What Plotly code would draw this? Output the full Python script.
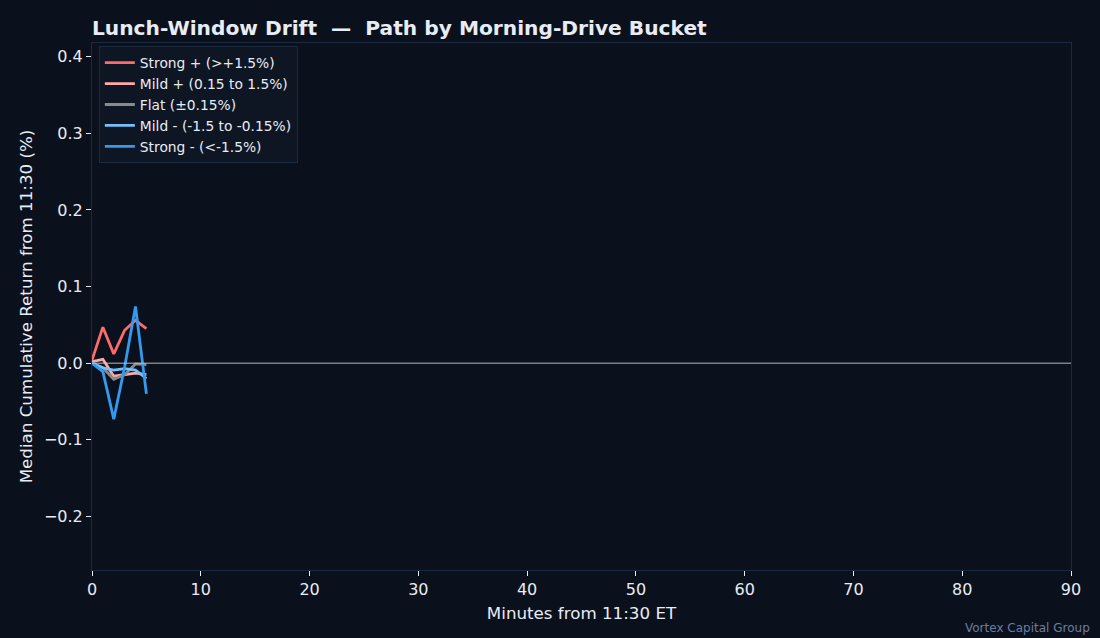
import plotly.graph_objects as go

# ── Dati ────────────────────────────────────────────────────────────────────
minutes = [0, 1, 2, 3, 4, 5]

bucket_names = [
    "Strong + (>+1.5%)",
    "Mild + (0.15 to 1.5%)",
    "Flat (±0.15%)",
    "Mild - (-1.5 to -0.15%)",
    "Strong - (<-1.5%)",
]
strong_pos = [0.004, 0.047, 0.012, 0.043, 0.056, 0.045]
mild_pos = [0.002, 0.005, -0.017, -0.015, -0.013, -0.015]
flat = [0.0, -0.006, -0.021, -0.015, -0.001, -0.002]
mild_neg = [0.0, -0.006, -0.009, -0.007, -0.009, -0.020]
strong_neg = [0.0, -0.011, -0.073, -0.005, 0.074, -0.040]

colors = ["#ff6b6b", "#ffa8a8", "#8a8a8a", "#74c0fc", "#339af0"]

BG = "#0b111c"
GRID = "#1c2a40"
FONT_CLR = "#e8ecf4"
FONT = "DejaVu Sans, sans-serif"

fig = go.Figure()
for name, vals, c in zip(bucket_names, [strong_pos, mild_pos, flat, mild_neg, strong_neg], colors):
    fig.add_trace(go.Scatter(
        x=minutes, y=vals, mode="lines", name=name,
        line=dict(color=c, width=2.8),
    ))

fig.add_hline(y=0, line=dict(color="#c8ccd8", width=0.9))

fig.update_layout(
    width=1100, height=638,
    paper_bgcolor=BG, plot_bgcolor=BG,
    font=dict(family=FONT, color=FONT_CLR, size=16),
    margin=dict(l=92, r=29, t=43, b=68),
    title=dict(
        text="<b>Lunch-Window Drift  —  Path by Morning-Drive Bucket</b>",
        x=92 / 1100, xanchor="left", y=0.957, yanchor="middle",
        font=dict(size=20.2, color=FONT_CLR),
    ),
    showlegend=True,
    legend=dict(
        x=0.007, y=0.994, xanchor="left", yanchor="top",
        bgcolor="#0e1624", bordercolor=GRID, borderwidth=1,
        font=dict(size=13.8, color=FONT_CLR),
        itemwidth=30, tracegroupgap=1,
    ),
    xaxis=dict(
        range=[0, 90], dtick=10, showgrid=False, zeroline=False,
        showline=True, linecolor=GRID, mirror=True,
        ticks="outside", tickcolor=FONT_CLR, ticklen=5,
        tickfont=dict(size=16),
        title=dict(text="Minutes from 11:30 ET", font=dict(size=16.7), standoff=9),
    ),
    yaxis=dict(
        range=[-0.27, 0.418], dtick=0.1, showgrid=False, zeroline=False,
        showline=True, linecolor=GRID, mirror=True,
        ticks="outside", tickcolor=FONT_CLR, ticklen=5,
        tickformat=".1f", tickfont=dict(size=16),
        title=dict(text="Median Cumulative Return from 11:30 (%)", font=dict(size=16.7), standoff=7),
    ),
    annotations=[dict(
        text="Vortex Capital Group", xref="paper", yref="paper",
        x=1.021, y=-0.11, xanchor="right", yanchor="middle",
        showarrow=False, font=dict(size=12, color="#6a7ea0"),
    )],
)

fig.write_html(
    "out.html",
    config={"displayModeBar": False},
    post_script="document.body.style.margin='0';document.body.style.background='%s';" % BG,
)
